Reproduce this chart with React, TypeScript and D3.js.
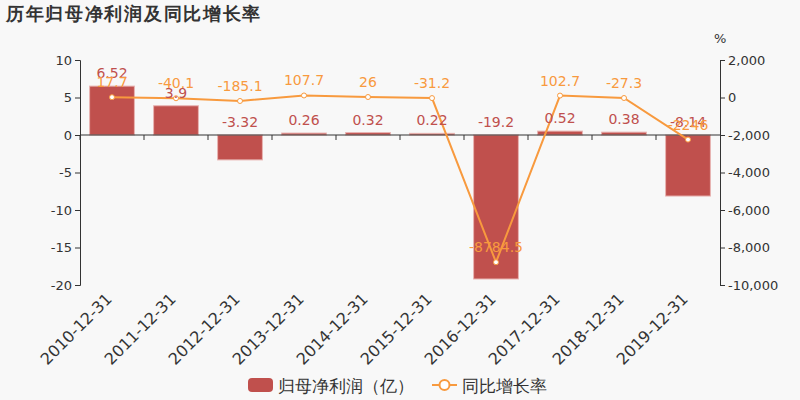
import React, { useEffect, useRef } from "react";
import * as d3 from "d3";

const years = ["2010-12-31", "2011-12-31", "2012-12-31", "2013-12-31", "2014-12-31",
  "2015-12-31", "2016-12-31", "2017-12-31", "2018-12-31", "2019-12-31"];
const profit = [6.52, 3.9, -3.32, 0.26, 0.32, 0.22, -19.2, 0.52, 0.38, -8.14];
const growth = [17.7, -40.1, -185.1, 107.7, 26, -31.2, -8784.5, 102.7, -27.3, -2246];
const leftTicks = [10, 5, 0, -5, -10, -15, -20];
const rightTicks = [2000, 0, -2000, -4000, -6000, -8000, -10000];

const barColor = "#c0504d";
const lineColor = "#f89a3e";
const font = "DejaVu Sans, sans-serif";

export default function App() {
  const ref = useRef<SVGSVGElement>(null);

  useEffect(() => {
    const svg = d3.select(ref.current);
    svg.selectAll("*").remove();
    const w = 800, h = 400;
    const left = 80, right = 720, top = 60, bottom = 285;

    svg.append("rect").attr("width", w).attr("height", h).attr("fill", "#f8f8f8");

    svg.append("text").text("历年归母净利润及同比增长率")
      .attr("x", 6).attr("y", 20).attr("font-family", font)
      .attr("font-size", 18).attr("font-weight", "bold").attr("fill", "#333")
      .attr("letter-spacing", 1.7);

    const x = d3.scaleBand().domain(years).range([left, right]).paddingInner(0.3).paddingOuter(0.15);
    const xc = d3.scalePoint().domain(years).range([left, right]).padding(0.5);
    const yL = d3.scaleLinear().domain([-20, 10]).range([bottom, top]);
    const yR = d3.scaleLinear().domain([-10000, 2000]).range([bottom, top]);

    // left axis
    const gl = svg.append("g").attr("transform", `translate(${left},0)`)
      .call(d3.axisLeft(yL).tickValues(leftTicks).tickSize(5));
    gl.select(".domain").attr("stroke", "#333");
    gl.selectAll(".tick line").attr("stroke", "#333");
    gl.selectAll("text").attr("font-family", font).attr("font-size", 13).attr("fill", "#333")
      .text((d: any) => String(d));

    // right axis
    const gr = svg.append("g").attr("transform", `translate(${right},0)`)
      .call(d3.axisRight(yR).tickValues(rightTicks).tickSize(5));
    gr.select(".domain").attr("stroke", "#333");
    gr.selectAll(".tick line").attr("stroke", "#333");
    gr.selectAll("text").attr("font-family", font).attr("font-size", 13).attr("fill", "#333")
      .text((d: any) => d3.format(",")(d).replace("−", "-"));

    svg.append("text").text("%").attr("x", 714).attr("y", 43)
      .attr("font-family", font).attr("font-size", 13).attr("fill", "#333");

    // bars
    svg.append("g").selectAll("rect").data(profit).enter().append("rect")
      .attr("x", (_, i) => x(years[i])!)
      .attr("width", x.bandwidth())
      .attr("y", d => yL(Math.max(0, d)))
      .attr("height", d => Math.abs(yL(d) - yL(0)))
      .attr("fill", barColor)
      .attr("stroke", "#e8b4b2").attr("stroke-width", 1);

    // x axis at zero
    const gx = svg.append("g").attr("transform", `translate(0,${yL(0)})`)
      .call(d3.axisBottom(x).tickSize(5).tickFormat(() => ""));
    gx.select(".domain").attr("stroke", "#333").attr("d", `M${left},0H${right}`);
    gx.selectAll(".tick").attr("transform", (_, i) => `translate(${left + i * (right - left) / years.length},0)`);
    gx.selectAll(".tick line").attr("stroke", "#333");

    // category labels
    svg.append("g").selectAll("text").data(years).enter().append("text")
      .text(d => d)
      .attr("transform", d => `translate(${xc(d)! + 1},${bottom + 15}) rotate(-45)`)
      .attr("text-anchor", "end").attr("font-family", font).attr("font-size", 16).attr("fill", "#333");

    // line
    const line = d3.line<number>().x((_, i) => xc(years[i])!).y(d => yR(d));
    svg.append("path").datum(growth).attr("d", line)
      .attr("fill", "none").attr("stroke", lineColor).attr("stroke-width", 2);
    svg.append("g").selectAll("circle").data(growth).enter().append("circle")
      .attr("cx", (_, i) => xc(years[i])!).attr("cy", d => yR(d)).attr("r", 2.5)
      .attr("fill", "#fff").attr("stroke", lineColor).attr("stroke-width", 1);

    // bar labels
    svg.append("g").selectAll("text").data(profit).enter().append("text")
      .text(d => String(d))
      .attr("x", (_, i) => xc(years[i])!)
      .attr("y", d => Math.min(yL(d), yL(0)) - 8)
      .attr("text-anchor", "middle").attr("font-family", font).attr("font-size", 14).attr("fill", barColor);

    // line labels
    svg.append("g").selectAll("text").data(growth).enter().append("text")
      .text(d => String(d))
      .attr("x", (_, i) => xc(years[i])!)
      .attr("y", d => yR(d) - 10)
      .attr("text-anchor", "middle").attr("font-family", font).attr("font-size", 14).attr("fill", lineColor);

    // legend
    const lg = svg.append("g");
    lg.append("rect").attr("x", 248).attr("y", 378).attr("width", 25).attr("height", 14).attr("rx", 4)
      .attr("fill", barColor);
    lg.append("text").text("归母净利润（亿）").attr("x", 278).attr("y", 392)
      .attr("font-family", font).attr("font-size", 17).attr("fill", "#333");
    lg.append("line").attr("x1", 432).attr("x2", 457).attr("y1", 385).attr("y2", 385)
      .attr("stroke", lineColor).attr("stroke-width", 2);
    lg.append("circle").attr("cx", 444.5).attr("cy", 385).attr("r", 5)
      .attr("fill", "#fff").attr("stroke", lineColor).attr("stroke-width", 2);
    lg.append("text").text("同比增长率").attr("x", 462).attr("y", 392)
      .attr("font-family", font).attr("font-size", 17).attr("fill", "#333");
  }, []);

  return (
    <div style={{ position: "absolute", left: 0, top: 0 }}>
      <svg ref={ref} width={800} height={400}></svg>
    </div>
  );
}
